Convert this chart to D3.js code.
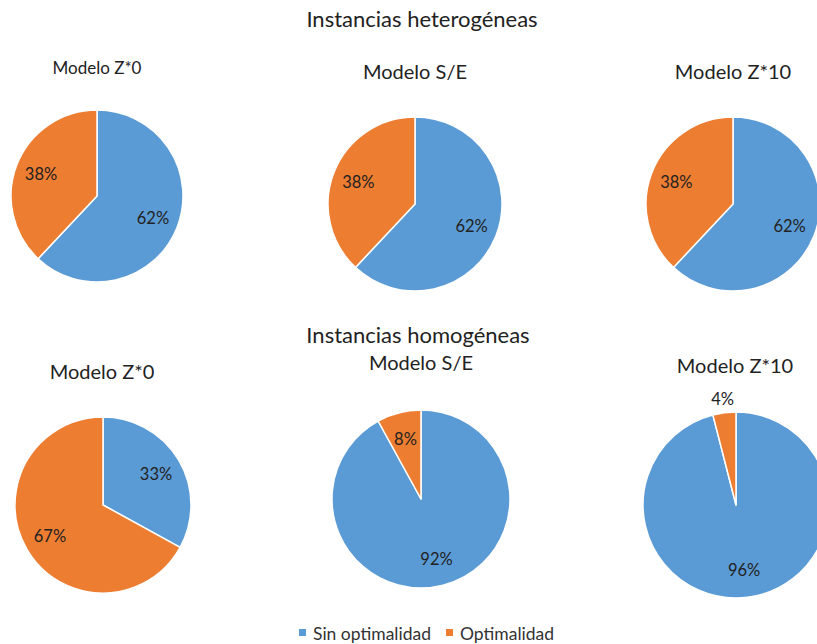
<!DOCTYPE html>
<html>
<head>
<meta charset="utf-8">
<script src="https://cdn.jsdelivr.net/npm/d3@7"></script>
<style>
  html, body { margin: 0; padding: 0; background: #fff; }
  svg { display: block; font-family: Lato, "Noto Sans", sans-serif; }
</style>
</head>
<body>
<svg id="chart" width="817" height="644"></svg>
<script>
// Series and categories
const series = ["Sin optimalidad", "Optimalidad"];
const models = ["Modelo Z*0", "Modelo S/E", "Modelo Z*10"];
const groupTitles = ["Instancias heterogéneas", "Instancias homogéneas"];

// Percentages per model (Sin optimalidad, Optimalidad)
const heteroSin = [62, 62, 62];
const heteroOpt = [38, 38, 38];
const homoSin = [33, 92, 96];
const homoOpt = [67, 8, 4];

const colors = d3.scaleOrdinal().domain(series).range(["#5B9BD5", "#ED7D31"]);

const svg = d3.select("#chart");
svg.append("rect").attr("width", 817).attr("height", 644).attr("fill", "#fff");

// Layout of each panel: pie centre, radius, title position and size
const panels = [
  { g: 0, m: 0, cx: 97,  cy: 196, r: 86, tx: 97,  ty: 74,  ts: 17 },
  { g: 0, m: 1, cx: 415, cy: 204, r: 87, tx: 415, ty: 79,  ts: 20 },
  { g: 0, m: 2, cx: 733, cy: 204, r: 87, tx: 733, ty: 79,  ts: 20 },
  { g: 1, m: 0, cx: 103, cy: 505, r: 88, tx: 102, ty: 379, ts: 20 },
  { g: 1, m: 1, cx: 421, cy: 499, r: 89, tx: 421, ty: 370, ts: 20 },
  { g: 1, m: 2, cx: 736, cy: 505, r: 93, tx: 735, ty: 373, ts: 20 }
];

const groupData = [
  [heteroSin, heteroOpt],
  [homoSin, homoOpt]
];

// Group headings
svg.append("text").attr("x", 422).attr("y", 27).attr("text-anchor", "middle")
  .attr("font-size", 22).attr("fill", "#222").text(groupTitles[0]);
svg.append("text").attr("x", 418).attr("y", 343).attr("text-anchor", "middle")
  .attr("font-size", 22).attr("fill", "#222").text(groupTitles[1]);

const pie = d3.pie().sort(null).value(d => d.value);

panels.forEach(p => {
  const vals = series.map((s, i) => ({ key: s, value: groupData[p.g][i][p.m] }));
  const arcs = pie(vals);
  const arc = d3.arc().innerRadius(0).outerRadius(p.r);
  const g = svg.append("g").attr("transform", `translate(${p.cx},${p.cy})`);

  g.selectAll("path").data(arcs).join("path")
    .attr("d", arc)
    .attr("fill", d => colors(d.data.key))
    .attr("stroke", "#fff")
    .attr("stroke-width", 1.5)
    .attr("stroke-linejoin", "round");

  g.selectAll("text.lbl").data(arcs).join("text")
    .attr("class", "lbl")
    .attr("transform", d => {
      const a = (d.startAngle + d.endAngle) / 2;
      const rr = d.data.value < 5 ? p.r + 14 : p.r * 0.7;
      return `translate(${Math.sin(a) * rr},${-Math.cos(a) * rr})`;
    })
    .attr("text-anchor", "middle")
    .attr("dominant-baseline", "central")
    .attr("font-size", 16.5)
    .attr("fill", "#222")
    .text(d => d.data.value + "%");

  svg.append("text").attr("x", p.tx).attr("y", p.ty).attr("text-anchor", "middle")
    .attr("font-size", p.ts).attr("fill", "#222").text(models[p.m]);
});

// Legend
const legend = svg.append("g").attr("transform", "translate(299,633)");
const items = [{ s: series[0], x: 0 }, { s: series[1], x: 147 }];
items.forEach(it => {
  legend.append("rect").attr("x", it.x).attr("y", -4).attr("width", 7).attr("height", 7)
    .attr("fill", colors(it.s));
  legend.append("text").attr("x", it.x + 14).attr("y", 0).attr("dominant-baseline", "central")
    .attr("font-size", 17.5).attr("fill", "#333").text(it.s);
});
</script>
</body>
</html>
